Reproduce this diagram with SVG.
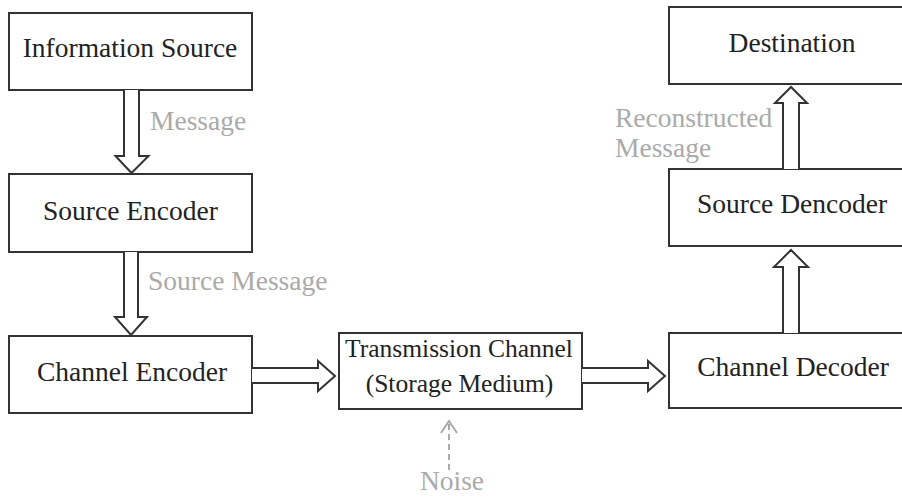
<svg xmlns="http://www.w3.org/2000/svg" width="902" height="498" viewBox="0 0 902 498">
  <style>
    .box { fill: #ffffff; stroke: #333333; stroke-width: 2; }
    .arrow { fill: #ffffff; stroke: #333333; stroke-width: 2; stroke-linejoin: miter; }
    .label { font-family: "Liberation Serif", "Times New Roman", serif; font-size: 27.5px; fill: #222222; text-anchor: middle; }
    .note { font-family: "Liberation Serif", "Times New Roman", serif; font-size: 27.5px; fill: #aaaaaa; }
    .noise { fill: none; stroke: #aaaaaa; stroke-width: 2; }
  </style>
  <rect width="902" height="498" fill="#ffffff"/>

  <g id="information-source">
    <rect class="box" x="9" y="13" width="243" height="77"/>
    <text class="label" x="130" y="57">Information Source</text>
  </g>
  <g id="source-encoder">
    <rect class="box" x="9" y="174" width="243" height="78"/>
    <text class="label" x="130.5" y="220">Source Encoder</text>
  </g>
  <g id="channel-encoder">
    <rect class="box" x="9" y="336" width="243" height="77"/>
    <text class="label" x="132" y="381">Channel Encoder</text>
  </g>
  <g id="transmission-channel">
    <rect class="box" x="339" y="333" width="243" height="76"/>
    <text class="label" x="459" y="357" style="font-size:25.5px">Transmission Channel</text>
    <text class="label" x="459.5" y="392" style="font-size:25.5px">(Storage Medium)</text>
  </g>
  <g id="channel-decoder">
    <rect class="box" x="669" y="333" width="250" height="75"/>
    <text class="label" x="793" y="376">Channel Decoder</text>
  </g>
  <g id="source-dencoder">
    <rect class="box" x="669" y="169" width="250" height="77"/>
    <text class="label" x="792" y="213">Source Dencoder</text>
  </g>
  <g id="destination">
    <rect class="box" x="669" y="7" width="250" height="77"/>
    <text class="label" x="792" y="52">Destination</text>
  </g>

  <g id="connectors">
    <!-- Information Source -> Source Encoder -->
    <path class="arrow" d="M124,90 V156 H115.5 L131.5,173 L148.5,156 H139 V90"/>
    <text class="note" x="150" y="130">Message</text>
    <!-- Source Encoder -> Channel Encoder -->
    <path class="arrow" d="M124,252 V317 H115 L131,335 L147,317 H138 V252"/>
    <text class="note" x="148" y="290">Source Message</text>
    <!-- Channel Encoder -> Transmission Channel -->
    <path class="arrow" d="M252,368 H318 V361 L335,376 L318,391 V383 H252"/>
    <!-- Transmission Channel -> Channel Decoder -->
    <path class="arrow" d="M582,368 H648 V361 L665,376 L648,391 V383 H582"/>
    <!-- Channel Decoder -> Source Dencoder -->
    <path class="arrow" d="M783,333 V267 H774 L791,250 L808,267 H799 V333"/>
    <!-- Source Dencoder -> Destination -->
    <path class="arrow" d="M783,169 V103 H775 L791,87 L807,103 H799 V169"/>
    <text class="note" x="615" y="127">Reconstructed</text>
    <text class="note" x="615" y="157">Message</text>
    <!-- Noise into the channel -->
    <line class="noise" x1="449" y1="470" x2="449" y2="423" stroke-dasharray="6,4"/>
    <polyline class="noise" points="441,433 449,421 457,433"/>
    <text class="note" x="452" y="490" text-anchor="middle">Noise</text>
  </g>
</svg>
